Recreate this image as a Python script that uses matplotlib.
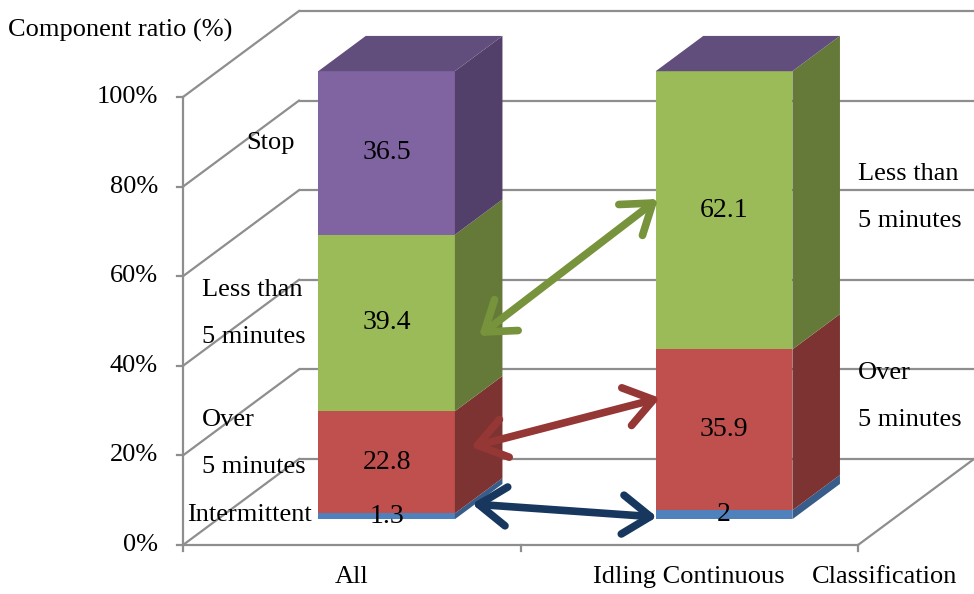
import matplotlib
matplotlib.use("Agg")
import matplotlib.pyplot as plt
from matplotlib.patches import Polygon, FancyArrowPatch
import numpy as np

# ---- data ----
categories = ["All", "Idling Continuous"]
series_names = ["Intermittent", "Over 5 minutes", "Less than 5 minutes", "Stop"]
intermittent = [1.3, 2.0]
over_5min = [22.8, 35.9]
less_5min = [39.4, 62.1]
stop = [36.5, 0.0]
y_ticks = [0, 20, 40, 60, 80, 100]
y_tick_labels = ["0%", "20%", "40%", "60%", "80%", "100%"]

series_values = [intermittent, over_5min, less_5min, stop]
front_colors = ["#4F81BD", "#C0504D", "#9BBB59", "#8064A2"]
side_colors = ["#385D8A", "#7C3331", "#657A38", "#523F6A"]
top_colors = ["#41699A", "#9A3F3D", "#7B9545", "#624E7C"]

plt.rcParams["font.family"] = ["Liberation Serif", "DejaVu Serif"]
FS = 19

fig = plt.figure(figsize=(9.74, 5.94), dpi=100)
ax = fig.add_axes([0, 0, 1, 1])
ax.set_xlim(-183 / 337.5, (974 - 183) / 337.5)
ax.set_ylim(-49 / 4.48, (594 - 49) / 4.48)
ax.axis("off")

# oblique depth vector (one full floor depth)
DX, DY = 0.3437, 19.2


def proj(x, y, z):
    return (x + DX * z, y + DY * z)


grid_col = "#8E8E8E"
glw = 1.6
n_cat = len(categories)

# back wall gridlines and left wall diagonals
for t in y_ticks:
    xs, ys = zip(proj(0, t, 1), proj(n_cat, t, 1))
    ax.plot(xs, ys, color=grid_col, lw=glw, zorder=1, solid_capstyle="butt")
    xs, ys = zip(proj(0, t, 0), proj(0, t, 1))
    ax.plot(xs, ys, color=grid_col, lw=glw, zorder=1)

# floor front and right edges
ax.plot([0, n_cat], [0, 0], color=grid_col, lw=glw, zorder=1)
xs, ys = zip(proj(n_cat, 0, 0), proj(n_cat, 0, 1))
ax.plot(xs, ys, color=grid_col, lw=glw, zorder=1)

# value axis with ticks
ax.plot([0, 0], [0, 100], color=grid_col, lw=glw, zorder=1)
tick_dx = 6 / 337.5
for t, lab in zip(y_ticks, y_tick_labels):
    ax.plot([-tick_dx, 0], [t, t], color=grid_col, lw=glw, zorder=1)
    ax.text(-25 / 337.5, t, lab, ha="right", va="center", fontsize=FS)

# category axis ticks
for i in range(n_cat + 1):
    ax.plot([i, i], [0, -6 / 4.48], color=grid_col, lw=glw, zorder=1)

# ---- 3D stacked bars ----
bar_w = 0.405
z0, z1 = 0.30, 0.71
xc = np.arange(n_cat) + 0.5
cum = np.zeros(n_cat)
for k, vals in enumerate(series_values):
    vals = np.asarray(vals, dtype=float)
    ax.bar(xc + DX * z0, vals, bottom=cum + DY * z0, width=bar_w,
           color=front_colors[k], linewidth=0, zorder=3)
    for i in range(n_cat):
        r = xc[i] + bar_w / 2
        l = xc[i] - bar_w / 2
        b, t = cum[i], cum[i] + vals[i]
        side = [proj(r, b, z0), proj(r, b, z1), proj(r, t, z1), proj(r, t, z0)]
        ax.add_patch(Polygon(side, closed=True, facecolor=side_colors[k],
                             edgecolor="none", zorder=3))
        if k == len(series_values) - 1:
            top = [proj(l, t, z0), proj(r, t, z0), proj(r, t, z1), proj(l, t, z1)]
            ax.add_patch(Polygon(top, closed=True, facecolor=top_colors[k],
                                 edgecolor="none", zorder=3))
        if vals[i] > 0:
            cx, cy = proj(xc[i], b + vals[i] / 2, z0)
            ax.text(cx, cy, f"{vals[i]:g}", ha="center", va="center",
                    fontsize=20, zorder=6)
    cum = cum + vals

# ---- comparison arrows ----
def px(x, y):
    return ((x - 183) / 337.5, (545 - y) / 4.48)


arrows = [
    (px(479, 336), px(658, 199), "#77933C"),
    (px(471, 447), px(660, 398), "#953735"),
    (px(472, 504), px(657, 517), "#17375E"),
]
for p0, p1, c in arrows:
    ax.add_patch(FancyArrowPatch(p0, p1,
                                 arrowstyle="<->,head_length=1.0,head_width=0.7",
                                 mutation_scale=20, color=c, lw=5.5,
                                 capstyle="round", joinstyle="round",
                                 shrinkA=0, shrinkB=0, zorder=5))

# ---- series labels ----
series_labels = [
    ("Stop", 246, 143),
    ("Less than", 202, 290),
    ("5 minutes", 202, 337),
    ("Over", 202, 420),
    ("5 minutes", 202, 467),
    ("Intermittent", 187, 515),
    ("Less than", 858, 174),
    ("5 minutes", 858, 221),
    ("Over", 858, 373),
    ("5 minutes", 858, 420),
]
for s, x, y in series_labels:
    ax.text(*px(x, y), s, ha="left", va="center", fontsize=FS)

# ---- category labels and titles ----
for i, c in enumerate(categories):
    ax.text(xc[i], px(0, 577)[1], c, ha="center", va="center", fontsize=FS)
ax.text(*px(812, 577), "Classification", ha="left", va="center", fontsize=FS)
ax.text(*px(8, 30), "Component ratio (%)", ha="left", va="center", fontsize=FS)

fig.savefig("out.png", dpi=100)
